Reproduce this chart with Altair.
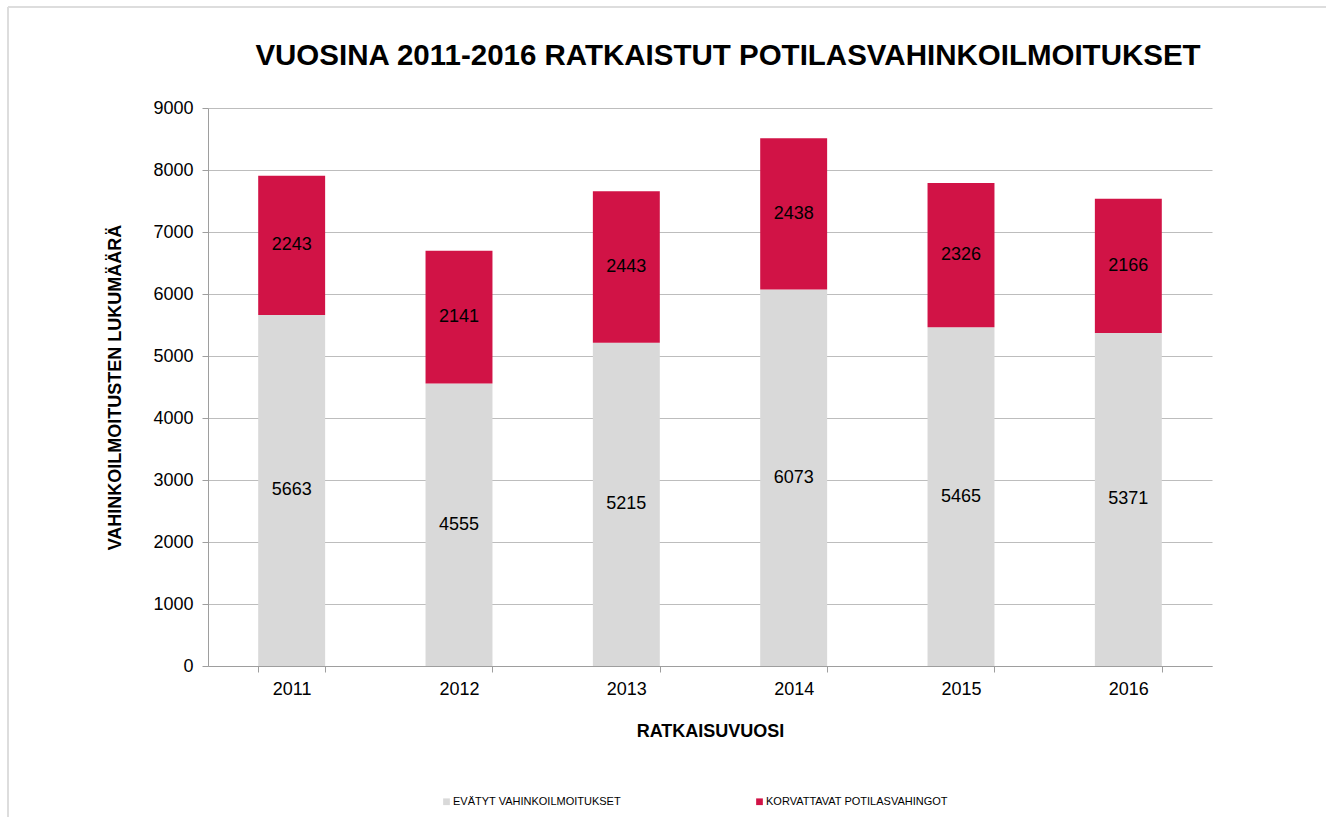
import altair as alt
import pandas as pd

years = ["2011", "2012", "2013", "2014", "2015", "2016"]
denied = [5663, 4555, 5215, 6073, 5465, 5371]
compensated = [2243, 2141, 2443, 2438, 2326, 2166]
series = ["EVÄTYT VAHINKOILMOITUKSET", "KORVATTAVAT POTILASVAHINGOT"]
colors = ["#D9D9D9", "#D11346"]

rows = []
for y, d, c in zip(years, denied, compensated):
    rows.append({"year": y, "series": series[0], "value": d, "ord": 0})
    rows.append({"year": y, "series": series[1], "value": c, "ord": 1})
df = pd.DataFrame(rows)

FONT = "Liberation Sans"

base = alt.Chart(df)

bars = base.mark_bar().encode(
    x=alt.X("year:N", title="RATKAISUVUOSI",
            scale=alt.Scale(paddingInner=0.6, paddingOuter=0.3),
            axis=alt.Axis(labelAngle=0, tickBand="extent", grid=False,
                          labelFontSize=18, labelPadding=8, labelColor="#000000",
                          titleFontSize=18, titleFontWeight="bold", titlePadding=24,
                          titleColor="#000000",
                          domainColor="#9E9E9E", tickColor="#9E9E9E", tickSize=6)),
    y=alt.Y("value:Q", stack="zero", title="VAHINKOILMOITUSTEN LUKUMÄÄRÄ",
            scale=alt.Scale(domain=[0, 9000]),
            axis=alt.Axis(values=list(range(0, 9001, 1000)), format="d",
                          labelFontSize=18,
                          labelPadding=9, labelColor="#000000",
                          titleFontSize=18, titleFontWeight="bold", titlePadding=28,
                          titleColor="#000000",
                          gridColor="#BDBDBD", gridWidth=1.2,
                          domainColor="#9E9E9E", tickColor="#9E9E9E", tickSize=6)),
    color=alt.Color("series:N", scale=alt.Scale(domain=series, range=colors),
                    legend=alt.Legend(title=None, orient="none", direction="horizontal",
                                      legendX=233, legendY=688, symbolType="square",
                                      symbolSize=45, symbolStrokeWidth=0,
                                      labelFontSize=11, labelOffset=1, labelLimit=0,
                                      columnPadding=133, labelColor="#000000")),
    order=alt.Order("ord:Q", sort="ascending"),
)

labels = base.transform_stack(
    stack="value", groupby=["year"], as_=["v0", "v1"],
    sort=[alt.SortField("ord", order="ascending")]
).transform_calculate(
    mid="(datum.v0 + datum.v1) / 2"
).mark_text(fontSize=18, color="#000000", baseline="middle").encode(
    x=alt.X("year:N"),
    y=alt.Y("mid:Q"),
    text=alt.Text("value:Q", format="d"),
)

frame_top = alt.Chart(df).mark_rule(color="#DDDDDD", strokeWidth=2).encode(
    x=alt.value(-200), x2=alt.value(1130), y=alt.value(-101))
frame_left = alt.Chart(df).mark_rule(color="#DDDDDD", strokeWidth=2).encode(
    x=alt.value(-200), y=alt.value(-101), y2=alt.value(720))

chart = alt.layer(bars, labels, frame_top, frame_left).properties(
    width=1004,
    height=558,
    title=alt.TitleParams(
        "VUOSINA 2011-2016 RATKAISTUT POTILASVAHINKOILMOITUKSET",
        fontSize=29.5, fontWeight="bold", color="#000000", anchor="middle",
        dx=18, offset=0, dy=65, font=FONT),
    autosize=alt.AutoSizeParams(type="none"),
    padding={"left": 208, "top": 108, "right": 114, "bottom": 151},
).configure(font=FONT).configure_view(stroke=None).configure_axis(
    labelFont=FONT, titleFont=FONT
).configure_legend(labelFont=FONT)

chart.save("out.html", embed_options={"renderer": "svg", "actions": False})
